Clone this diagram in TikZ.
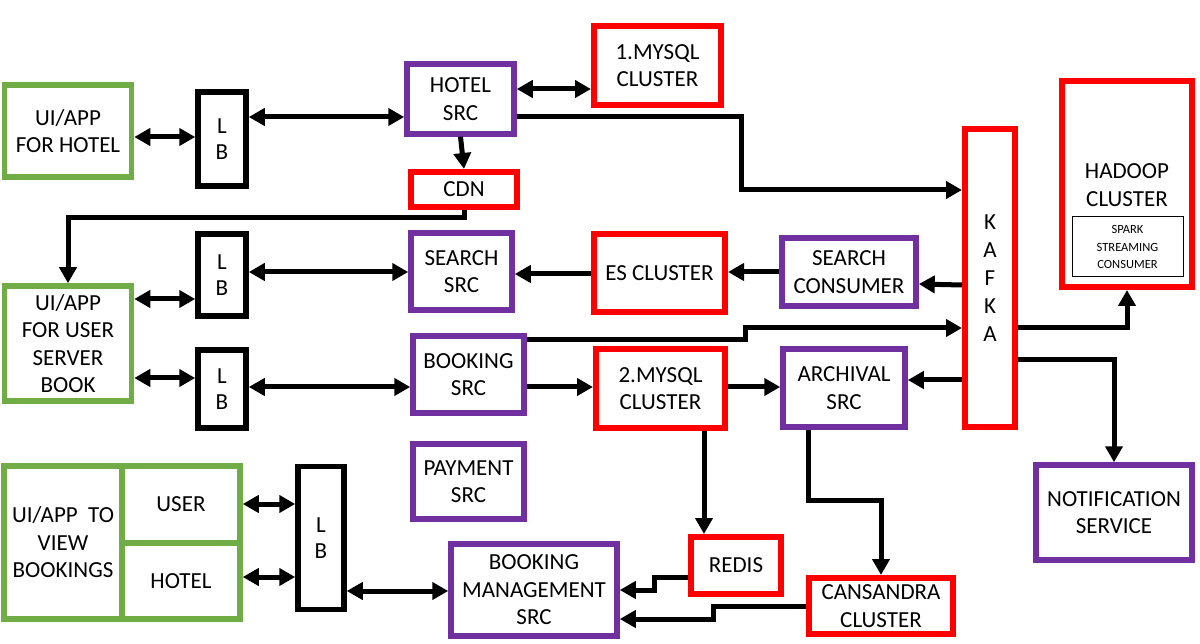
\documentclass[tikz,border=0pt]{standalone}
\usepackage{fontspec}
\setmainfont{Carlito}
\usetikzlibrary{arrows.meta}
\definecolor{appgreen}{RGB}{112,173,71}
\definecolor{srcpurple}{RGB}{112,48,160}

\begin{document}
\begin{tikzpicture}[x=1pt,y=-1pt,
  box/.style={draw,line width=5.5pt,fill=white,align=center,inner sep=0pt,
    font=\fontsize{23}{27.5}\selectfont},
  appbox/.style={box,draw=appgreen},
  srcbox/.style={box,draw=srcpurple},
  dbbox/.style={box,draw=red,line width=6pt},
  lbbox/.style={box,draw=black,font=\fontsize{23}{26.5}\selectfont},
  one/.style={line width=5pt,-{Triangle[length=16pt,width=17pt]}},
  dbl/.style={line width=5pt,{Triangle[length=16pt,width=17pt]}-{Triangle[length=16pt,width=17pt]}}]
\useasboundingbox[fill=white] (0,0) rectangle (1200,644);

% hotel side
\node[appbox,minimum width=127pt,minimum height=92pt] (uih) at (68,131) {UI/APP\\FOR HOTEL};
\node[lbbox,minimum width=48pt,minimum height=94pt] (lba) at (222,139) {L\\B};
\node[srcbox,minimum width=107pt,minimum height=70pt] (hotel) at (460.5,99) {HOTEL\\SRC};
\node[dbbox,minimum width=127pt,minimum height=79pt] (mysqla) at (657.5,65.5) {1.MYSQL\\CLUSTER};
\node[dbbox,minimum width=106pt,minimum height=35pt] (cdn) at (464,189.5) {CDN};

% kafka and hadoop
\node[dbbox,minimum width=50pt,minimum height=298pt,font=\fontsize{23}{28}\selectfont] (kafka) at (990,278) {K\\A\\F\\K\\A};
\node[dbbox,minimum width=130pt,minimum height=206pt] (hadoop) at (1127,184) {};
\node[font=\fontsize{23}{27.5}\selectfont,align=center] (hadooptxt) at (1127,185) {HADOOP\\CLUSTER};
\node[draw,line width=1pt,minimum width=111pt,minimum height=60pt,align=center,inner sep=0pt,
  font=\fontsize{12.5}{17.5}\selectfont] (spark) at (1127.5,247) {SPARK\\STREAMING\\CONSUMER};

% user side
\node[appbox,minimum width=127pt,minimum height=115pt] (uiu) at (68,343.5) {UI/APP\\FOR USER\\SERVER\\BOOK};
\node[lbbox,minimum width=48pt,minimum height=82pt] (lbb) at (222,275) {L\\B};
\node[srcbox,minimum width=101pt,minimum height=77pt] (search) at (461.5,271.5) {SEARCH\\SRC};
\node[dbbox,minimum width=131pt,minimum height=78pt] (es) at (659.5,273) {ES CLUSTER};
\node[srcbox,minimum width=134pt,minimum height=68pt] (scons) at (849,272) {SEARCH\\CONSUMER};
\node[lbbox,minimum width=48pt,minimum height=78pt] (lbc) at (222,389) {L\\B};
\node[srcbox,minimum width=111pt,minimum height=77pt] (booking) at (468.5,374.5) {BOOKING\\SRC};
\node[dbbox,minimum width=129pt,minimum height=79pt] (mysqlb) at (660.5,388.5) {2.MYSQL\\CLUSTER};
\node[srcbox,minimum width=122pt,minimum height=78pt] (archival) at (844,388) {ARCHIVAL\\SRC};
\node[srcbox,minimum width=111pt,minimum height=75pt] (payment) at (468.5,481.5) {PAYMENT\\SRC};
\node[srcbox,minimum width=156pt,minimum height=95pt] (notif) at (1114,512.5) {NOTIFICATION\\SERVICE};

% view bookings
\node[appbox,minimum width=118pt,minimum height=153pt] (vieww) at (63,542.5) {UI/APP\ \ TO\\VIEW\\BOOKINGS};
\node[appbox,minimum width=118pt,minimum height=77pt] (vuser) at (181,504.5) {USER};
\node[appbox,minimum width=118pt,minimum height=76pt] (vhotel) at (181,581) {HOTEL};
\node[lbbox,minimum width=46pt,minimum height=143pt] (lbd) at (321,538) {L\\B};
\node[srcbox,minimum width=166pt,minimum height=92pt] (mgmt) at (534,590) {BOOKING\\MANAGEMENT\\SRC};
\node[dbbox,minimum width=90pt,minimum height=57pt] (redis) at (736,565.5) {REDIS};
\node[dbbox,minimum width=144pt,minimum height=56pt] (cass) at (881,606) {CANSANDRA\\CLUSTER};

% connectors, top
\draw[dbl] (uih.east |- 0,137) -- (lba.west |- 0,137);
\draw[dbl] (lba.east |- 0,117) -- (hotel.west |- 0,117);
\draw[dbl] (hotel.east |- 0,89) -- (mysqla.west |- 0,89);
\draw[one] (hotel.south) -- (cdn.north);
\draw[one] (hotel.east |- 0,117) -- (741,117) |- (kafka.west |- 0,190);
\draw[one] (cdn.south) |- (68,218) -- (uiu.north);

% connectors, search row
\draw[dbl] (uiu.east |- 0,299) -- (lbb.west |- 0,299);
\draw[dbl] (lbb.east |- 0,272) -- (search.west |- 0,272);
\draw[one] (es.west |- 0,274) -- (search.east |- 0,274);
\draw[one] (scons.west |- 0,272) -- (es.east |- 0,272);
\draw[one] (kafka.west |- 0,285) -- (scons.east |- 0,284);

% connectors, booking row
\draw[dbl] (uiu.east |- 0,378) -- (lbc.west |- 0,378);
\draw[dbl] (lbc.east |- 0,387) -- (booking.west |- 0,387);
\draw[one] (booking.east |- 0,387) -- (mysqlb.west |- 0,387);
\draw[one] (mysqlb.east |- 0,387) -- (archival.west |- 0,387);
\draw[one] (kafka.west |- 0,380) -- (archival.east |- 0,380);
\draw[one] (booking.east |- 0,340) -- (745,340) |- (kafka.west |- 0,328);
\draw[one] (kafka.east |- 0,328) -| (hadoop.south);
\draw[one] (kafka.east |- 0,360) -| (notif.north);

% connectors, bottom
\draw[one] (mysqlb.south -| 704,0) -- (redis.north -| 704,0);
\draw[one] (archival.south -| 808,0) |- (881,500) -- (cass.north);
\draw[one] (redis.west |- 0,577) -| (654,590) -- (mgmt.east |- 0,590);
\draw[one] (cass.west |- 0,606) -| (713,619) -- (mgmt.east |- 0,619);
\draw[dbl] (vuser.east |- 0,504) -- (lbd.west |- 0,504);
\draw[dbl] (vhotel.east |- 0,577) -- (lbd.west |- 0,577);
\draw[dbl] (lbd.east |- 0,591) -- (mgmt.west |- 0,591);
\end{tikzpicture}
\end{document}
